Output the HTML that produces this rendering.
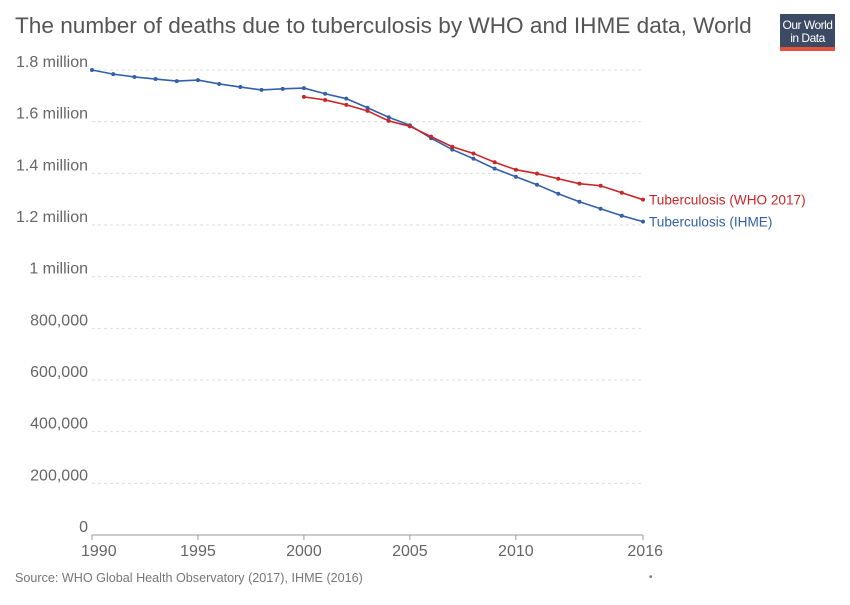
<!DOCTYPE html>
<html><head><meta charset="utf-8"><style>
body{margin:0;background:#fff;font-family:"Liberation Sans",sans-serif}
svg text{font-family:"Liberation Sans",sans-serif}
</style></head><body>
<svg id="c" width="850" height="600" xmlns="http://www.w3.org/2000/svg">
<text x="15" y="33" font-size="22.6" fill="#555">The number of deaths due to tuberculosis by WHO and IHME data, World</text>
<g>
<rect x="780" y="14" width="55" height="33" fill="#3c4a63"/>
<rect x="780" y="47" width="55" height="4" fill="#e5513b"/>
<text x="807.5" y="29" font-size="12" fill="#fff" text-anchor="middle" letter-spacing="-0.5">Our World</text>
<text x="807.5" y="42" font-size="12" fill="#fff" text-anchor="middle" letter-spacing="-0.5">in Data</text>
</g>
<g id="grid"></g><g id="lines"></g>
<text x="15" y="582" font-size="12.6" fill="#777">Source: WHO Global Health Observatory (2017), IHME (2016)</text>
<text x="649" y="580" font-size="10" fill="#777">•</text>
</svg>
<script>
const years=[];for(let y=1990;y<=2016;y++)years.push(y);
const ihme=[1.800,1.784,1.773,1.765,1.757,1.761,1.746,1.734,1.723,1.727,1.730,1.708,1.689,1.654,1.617,1.586,1.536,1.492,1.457,1.418,1.387,1.356,1.321,1.290,1.263,1.236,1.213].map(v=>v*1e6);
const whoYears=[2000,2001,2002,2003,2004,2005,2006,2007,2008,2009,2010,2011,2012,2013,2014,2015,2016];
const who=[1.696,1.684,1.665,1.642,1.603,1.582,1.542,1.503,1.477,1.443,1.414,1.399,1.379,1.360,1.352,1.325,1.298].map(v=>v*1e6);
const yTicks=[0,200000,400000,600000,800000,1000000,1200000,1400000,1600000,1800000];
const yTickLabels=["0","200,000","400,000","600,000","800,000","1 million","1.2 million","1.4 million","1.6 million","1.8 million"];
const xTicks=[1990,1995,2000,2005,2010,2016];
const NS="http://www.w3.org/2000/svg";
const X=y=>92+(y-1990)*(643-92)/26;
const Y=v=>535-v*(535-70)/1800000;
function mk(t,a,p){const e=document.createElementNS(NS,t);for(const k in a)e.setAttribute(k,a[k]);p.appendChild(e);return e;}
const g=document.getElementById('grid'),L=document.getElementById('lines');
yTicks.forEach((v,i)=>{
 const ln=mk('line',{x1:92,x2:643,y1:Y(v),y2:Y(v),stroke:'#ddd','stroke-dasharray':'3,3'},g);
 
 
 const t=mk('text',{x:88,y:Y(v)-3,'font-size':16,fill:'#666','text-anchor':'end'},g);
 t.textContent=yTickLabels[i];
 
 
});
const ax=mk('line',{x1:92,x2:643,y1:535,y2:535,stroke:'#999'},g);


xTicks.forEach(yr=>{
 const tk=mk('line',{x1:X(yr),x2:X(yr),y1:535,y2:540,stroke:'#999'},g);
 
 
 const t=mk('text',{x:X(yr),y:556,'font-size':16,fill:'#666','text-anchor':yr==2016?'end':'middle'},g);
 if(yr==1990)t.setAttribute('text-anchor','start'),t.setAttribute('x',X(yr)-11);
 if(yr==2016)t.setAttribute('x',X(yr)+20);
 t.textContent=yr;
 
 
});
function series(xs,vs,col,name,label){
 const p=mk('polyline',{points:xs.map((x,i)=>X(x)+','+Y(vs[i])).join(' '),fill:'none',stroke:col,'stroke-width':1.6},L);
 
 
 xs.forEach((x,i)=>{const c=mk('circle',{cx:X(x),cy:Y(vs[i]),r:2,fill:col},L);
  
  });
 const t=mk('text',{x:X(xs[xs.length-1])+6,y:Y(vs[vs.length-1])+5,'font-size':13.6,fill:col},L);
 t.textContent=label;
 
 
}
series(years,ihme,'#3360a9','ihme','Tuberculosis (IHME)');
series(whoYears,who,'#ca2628','who','Tuberculosis (WHO 2017)');
</script>
</body></html>
